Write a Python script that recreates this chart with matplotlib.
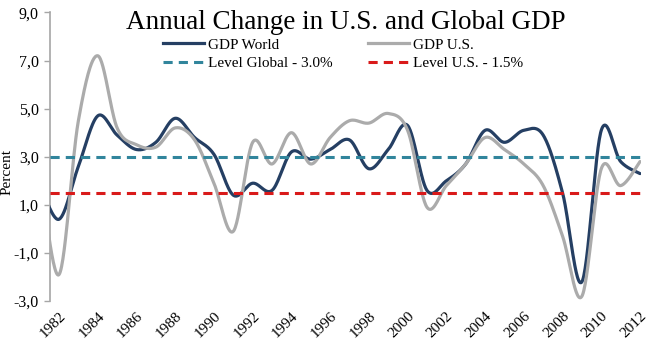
import numpy as np
import matplotlib.pyplot as plt
from matplotlib.lines import Line2D

# --- data (annual % change) ---
years = list(range(1981, 2013))
gdp_world = [1.9, 0.4, 2.6, 4.7, 3.9, 3.3, 3.6, 4.6, 3.8, 3.1,
             1.4, 1.9, 1.6, 3.2, 2.9, 3.3, 3.7, 2.5, 3.3, 4.3,
             1.6, 2.0, 2.7, 4.1, 3.6, 4.1, 3.9, 1.5, -2.2, 4.1,
             2.8, 2.3]
gdp_us = [2.5, -1.9, 4.5, 7.2, 4.2, 3.5, 3.4, 4.2, 3.7, 1.9,
          -0.1, 3.6, 2.7, 4.0, 2.7, 3.8, 4.5, 4.4, 4.8, 4.1,
          0.9, 1.8, 2.7, 3.8, 3.3, 2.7, 1.8, -0.3, -2.8, 2.5,
          1.8, 2.8]
level_global = 3.0
level_us = 1.5
yticks = [-3, -1, 1, 3, 5, 7, 9]
xticks = list(range(1982, 2013, 2))


def smooth(x, y, n=30):
    # Catmull-Rom curve through the points, like Excel's "smoothed line"
    x = np.asarray(x, float)
    y = np.asarray(y, float)
    px = np.concatenate([[x[0]], x, [x[-1]]])
    py = np.concatenate([[y[0]], y, [y[-1]]])
    t = np.linspace(0, 1, n, endpoint=False)
    xs, ys = [], []
    for i in range(len(x) - 1):
        for p, out in ((px, xs), (py, ys)):
            p0, p1, p2, p3 = p[i], p[i + 1], p[i + 2], p[i + 3]
            out.append(0.5 * (2 * p1 + (-p0 + p2) * t
                              + (2 * p0 - 5 * p1 + 4 * p2 - p3) * t ** 2
                              + (-p0 + 3 * p1 - 3 * p2 + p3) * t ** 3))
    xs.append([x[-1]])
    ys.append([y[-1]])
    return np.concatenate(xs), np.concatenate(ys)


plt.rcParams['font.family'] = ['Liberation Serif', 'DejaVu Serif']

c_world = '#253F63'
c_us = '#ABABAB'
c_glob = '#31859C'
c_uslev = '#D91A1A'
c_axis = '#A6A6A6'

fig = plt.figure(figsize=(6.52, 3.45), dpi=100)
ax = fig.add_axes([0.0767, 0.1275, 0.9064, 0.8363])

wx, wy = smooth(years, gdp_world)
ux, uy = smooth(years, gdp_us)
ax.plot(wx, wy, color=c_world, lw=2.3, solid_capstyle='round', zorder=3)
ax.plot(ux, uy, color=c_us, lw=2.3, solid_capstyle='round', zorder=4)
ax.axhline(level_global, color=c_glob, lw=2.2, dashes=(3, 2), zorder=5)
ax.axhline(level_us, color=c_uslev, lw=2.2, dashes=(3, 2), zorder=5)

ax.set_xlim(1981.535, 2012.05)
ax.set_ylim(-3, 9)
ax.set_yticks(yticks)
ax.set_yticklabels([f'{v:.1f}'.replace('.', ',') for v in yticks], fontsize=11.5)
ax.set_xticks(xticks)
ax.set_xticklabels([str(y) for y in xticks], rotation=45, ha='right',
                   rotation_mode='anchor', fontsize=11)
ax.tick_params(axis='x', length=0, pad=6)
ax.tick_params(axis='y', length=4, color=c_axis, width=1, pad=4)
for s in ['top', 'right', 'bottom']:
    ax.spines[s].set_visible(False)
ax.spines['left'].set_color(c_axis)
ax.spines['left'].set_linewidth(1.2)
ax.set_ylabel('Percent', fontsize=11, va='center')
ax.yaxis.set_label_coords(-0.073, 0.447)

fig.text(0.531, 0.972, 'Annual Change in U.S. and Global GDP',
         ha='center', va='top', fontsize=19.5)

handles = [Line2D([0], [0], color=c_world, lw=2.3),
           Line2D([0], [0], color=c_glob, lw=2.2, dashes=(3, 2)),
           Line2D([0], [0], color=c_us, lw=2.3),
           Line2D([0], [0], color=c_uslev, lw=2.2, dashes=(3, 2))]
labels = ['GDP World', 'Level Global - 3.0%', 'GDP U.S.', 'Level U.S. - 1.5%']
fig.legend(handles, labels, ncol=2, loc='upper left',
           bbox_to_anchor=(163 / 652, 1 - 38 / 345), frameon=False,
           fontsize=11, handlelength=2.7, handletextpad=0.25,
           columnspacing=2.3, labelspacing=0.3, borderpad=0,
           borderaxespad=0)

fig.savefig('out.png', dpi=100)
